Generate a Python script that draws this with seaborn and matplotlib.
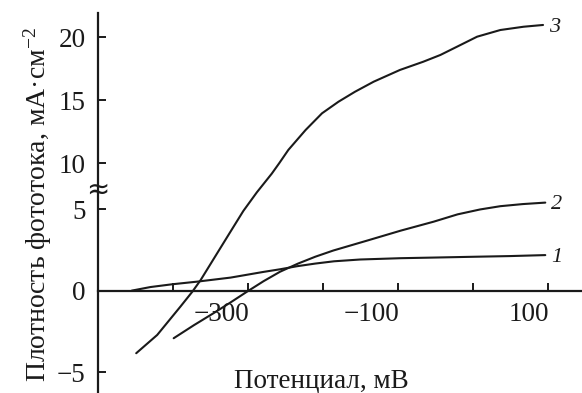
import numpy as np
import pandas as pd
import matplotlib
matplotlib.use("Agg")
import matplotlib.pyplot as plt
import matplotlib.transforms as mtransforms
import seaborn as sns

# ---- data ----
c1_x = [-455, -430, -401, -368, -323, -279, -257, -234, -210, -185, -150, -96, -50, -7, 50, 97]
c1_y = [0.02, 0.24, 0.41, 0.57, 0.82, 1.17, 1.33, 1.52, 1.68, 1.82, 1.93, 2.01, 2.05, 2.09, 2.14, 2.2]

c2_x = [-399, -372, -346, -323, -301, -279, -257, -233, -210, -186, -140, -96, -52, -20,
        10, 37, 67, 97]
c2_y = [-2.9, -2.1, -1.37, -0.7, -0.04, 0.6, 1.18, 1.68, 2.1, 2.48, 3.1, 3.7, 4.25, 4.7,
        5.0, 5.2, 5.33, 5.42]

c3_x = [-449, -421, -390, -374, -363, -341, -323, -306, -288, -268, -258, -246, -223,
        -201, -179, -157, -132, -97, -66, -43, -21, 6, 37, 68, 94]
c3_y = [-3.82, -2.7, -0.96, -0.04, 0.67, 2.31, 3.65, 4.91, 6.05, 8.48, 10.02, 11.06, 12.64,
        13.97, 14.89, 15.68, 16.48, 17.41, 18.06, 18.6, 19.25, 20.05, 20.58, 20.84, 20.98]

curve_names = ["1", "2", "3"]
x_ticks = [-400, -300, -200, -100, 0, 100]
x_ticklabels = ["", "\u2212300", "", "\u2212100", "", "100"]
y_ticks = [-5, 0, 5, 10, 15, 20]
y_ticklabels = ["\u22125", "0", "5", "10", "15", "20"]

# ---- broken y scale (compressed between 5 and 10) ----
_V = np.array([-100.0, 6.3, 10.0, 100.0])
_F = np.array([-100.0, 6.3, 7.83, 7.83 + 90 * 0.773])

def fwd(v):
    return np.interp(np.asarray(v, dtype=float), _V, _F)

def inv(f):
    return np.interp(np.asarray(f, dtype=float), _F, _V)

sns.set_theme(style="white")
plt.rcParams["font.family"] = ["Liberation Serif", "DejaVu Serif"]
plt.rcParams["mathtext.fontset"] = "custom"
plt.rcParams["mathtext.rm"] = "Liberation Serif"
plt.rcParams["mathtext.it"] = "Liberation Serif:italic"

fig = plt.figure(figsize=(5.82, 3.93), dpi=100)
W, H = 582, 393
ax = fig.add_axes([98 / W, 0, (W - 98) / W, (H - 13) / H])

frames = []
for name, xs, ys in [("1", c1_x, c1_y), ("2", c2_x, c2_y), ("3", c3_x, c3_y)]:
    frames.append(pd.DataFrame({"x": xs, "y": ys, "curve": name}))
df = pd.concat(frames, ignore_index=True)

for name in curve_names:
    d = df[df["curve"] == name]
    sns.lineplot(data=d, x="x", y="y", ax=ax, color="#1a1a1a", linewidth=1.5,
                 estimator=None, sort=False)
    ax.annotate(name, xy=(d["x"].iloc[-1], d["y"].iloc[-1]), xytext=(4, -1.5),
                textcoords="offset points", ha="left", va="center",
                fontsize=16, style="italic", color="#1a1a1a")

ax.set_yscale("function", functions=(fwd, inv))
ax.set_xlim(-500, 146)
ax.set_ylim(-6.26, 21.93)

ax.set_xticks(x_ticks)
ax.set_xticklabels(x_ticklabels)
ax.set_yticks(y_ticks)
ax.set_yticklabels(y_ticklabels)
ax.minorticks_off()

for s in ["top", "right"]:
    ax.spines[s].set_visible(False)
ax.spines["bottom"].set_position(("data", 0))
for s in ["left", "bottom"]:
    ax.spines[s].set_linewidth(1.6)
    ax.spines[s].set_color("#1a1a1a")

ax.tick_params(axis="both", direction="in", length=5.5, width=1.4, color="#1a1a1a",
               labelsize=19.5, labelcolor="#1a1a1a", bottom=True, left=True)
ax.tick_params(axis="y", pad=9)
ax.tick_params(axis="x", pad=8)
shift = mtransforms.ScaledTranslation(2 / 100, 0, fig.dpi_scale_trans)
for lab in ax.get_xticklabels():
    lab.set_horizontalalignment("right")
    lab.set_transform(lab.get_transform() + shift)
ax.set_xlabel("")
ax.set_ylabel("")
ax.grid(False)
ax.patch.set_alpha(0)

# axis break mark
ax.text(-500, 6.2, "\u2248", ha="center", va="center", fontsize=20,
        family="DejaVu Sans", color="#1a1a1a", clip_on=False)

fig.text(321 / W, 1 - 381 / H, "Потенциал, мВ", ha="center", va="center",
         fontsize=19.5, color="#1a1a1a")
fig.text(38 / W, 1 - 205 / H, "Плотность фототока, мА·см$^{-2}$", ha="center",
         va="center", rotation=90, fontsize=20, color="#1a1a1a")

fig.savefig("out.png", dpi=100)
